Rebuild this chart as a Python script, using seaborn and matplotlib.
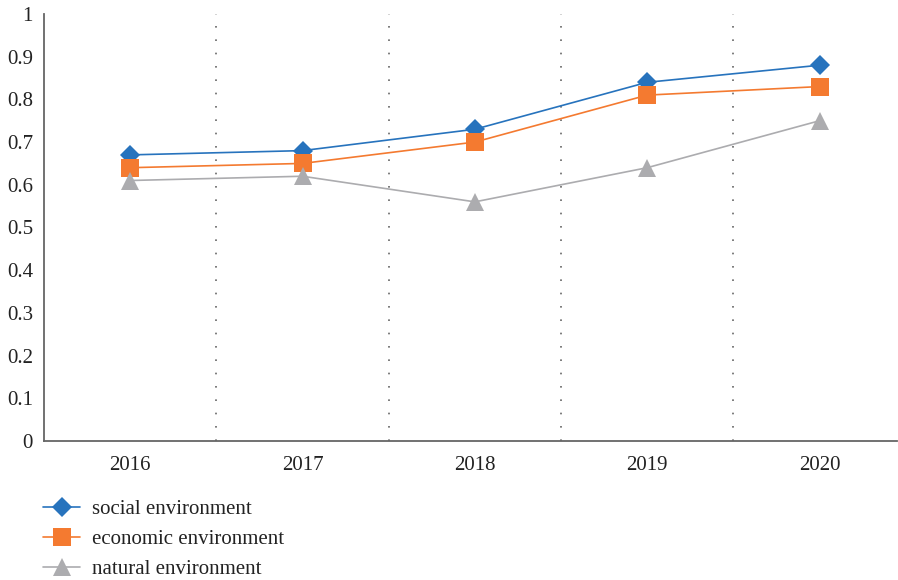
import matplotlib
matplotlib.use("Agg")
import matplotlib.pyplot as plt
import seaborn as sns
import pandas as pd

years = ["2016", "2017", "2018", "2019", "2020"]
social = [0.67, 0.68, 0.73, 0.84, 0.88]
economic = [0.64, 0.65, 0.70, 0.81, 0.83]
natural = [0.61, 0.62, 0.56, 0.64, 0.75]
series_names = ["social environment", "economic environment", "natural environment"]
y_ticks = [0, 0.1, 0.2, 0.3, 0.4, 0.5, 0.6, 0.7, 0.8, 0.9, 1]
y_labels = ["0", "0.1", "0.2", "0.3", "0.4", "0.5", "0.6", "0.7", "0.8", "0.9", "1"]

rows = []
for name, vals in zip(series_names, [social, economic, natural]):
    for i, (yr, v) in enumerate(zip(years, vals)):
        rows.append({"idx": i, "year": yr, "value": v, "series": name})
df = pd.DataFrame(rows)

sns.set_theme(style="white")
plt.rcParams["font.family"] = ["Liberation Serif", "DejaVu Serif"]

fig = plt.figure(figsize=(8.98, 5.8), dpi=100)
ax = fig.add_axes([0.049, 0.2397, 0.95, 0.7362])

palette = {"social environment": "#2773BD",
           "economic environment": "#F47A30",
           "natural environment": "#ACACAF"}
markers = {"social environment": "D",
           "economic environment": "s",
           "natural environment": "^"}
sizes_m = {"social environment": 10, "economic environment": 12.5, "natural environment": 12.5}

for name in series_names:
    sub = df[df["series"] == name]
    sns.lineplot(data=sub, x="idx", y="value", ax=ax, color=palette[name],
                 marker=markers[name], markersize=sizes_m[name],
                 markeredgewidth=0, linewidth=1.2, label=name, legend=False)

for b in [0.5, 1.5, 2.5, 3.5]:
    ax.axvline(b, color="#666666", linestyle=(0, (1, 7)), linewidth=1.2, zorder=0)

ax.set_xlim(-0.5, 4.45)
ax.set_ylim(0, 1)
ax.set_xticks(range(len(years)))
ax.set_xticklabels(years)
ax.set_yticks(y_ticks)
ax.set_yticklabels(y_labels)
ax.set_xlabel("")
ax.set_ylabel("")
ax.tick_params(axis="both", length=0, labelsize=15, colors="#222222")
ax.tick_params(axis="x", pad=11)
ax.tick_params(axis="y", pad=8)
for s in ["top", "right"]:
    ax.spines[s].set_visible(False)
for s in ["left", "bottom"]:
    ax.spines[s].set_color("#666666")
    ax.spines[s].set_linewidth(1.3)
ax.grid(False)

handles, labels = ax.get_legend_handles_labels()
fig.legend(handles, labels, loc="upper left", bbox_to_anchor=(0.039, 0.153),
           frameon=False, fontsize=15, handlelength=1.75, handletextpad=0.6,
           labelspacing=0.5, borderaxespad=0, labelcolor="#222222")

fig.savefig("out.png", dpi=100)
